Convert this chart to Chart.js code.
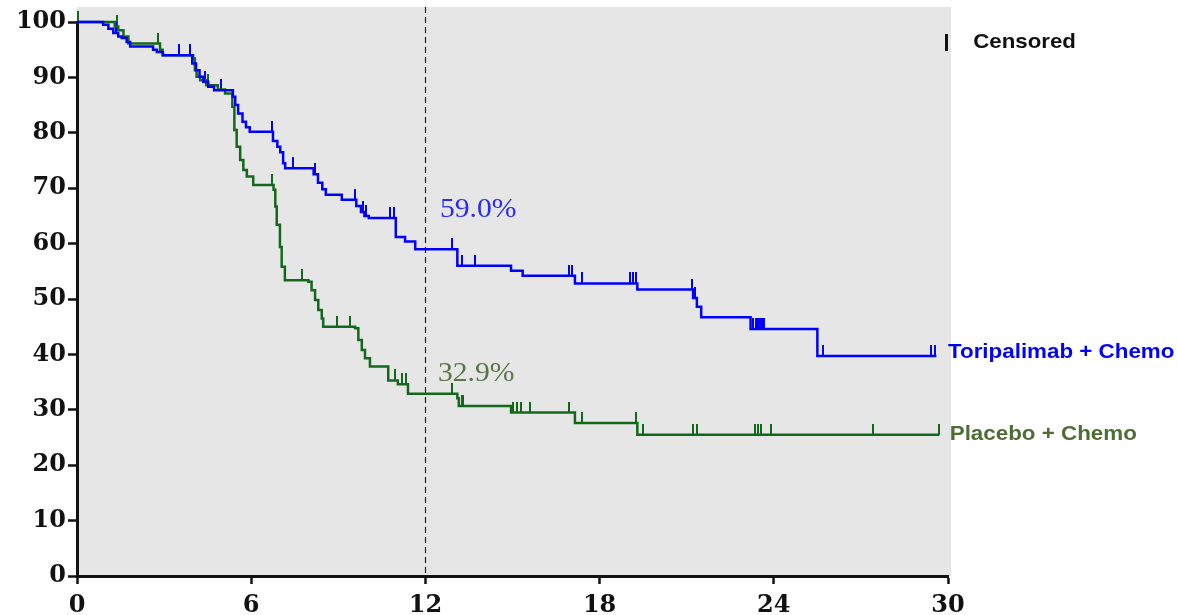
<!DOCTYPE html>
<html>
<head>
<meta charset="utf-8">
<script src="https://cdn.jsdelivr.net/npm/chart.js@4"></script>
<style>
  html, body { margin: 0; padding: 0; background: #ffffff; }
  canvas { display: block; }
</style>
</head>
<body>
<canvas id="km" width="1177" height="615"></canvas>
<script>
// Kaplan-Meier overall survival (%) by month

const xTickValues = [0, 6, 12, 18, 24, 30];
const yTickValues = [0, 10, 20, 30, 40, 50, 60, 70, 80, 90, 100];

// Toripalimab + Chemo: event times (months) and survival after each event (%)
const toriTimes = [0, 0.9, 1.08, 1.25, 1.42, 1.54, 1.71, 1.83, 2.62, 2.75, 2.96, 3.97, 4.1, 4.22, 4.35, 4.52, 4.72, 5.37, 5.45, 5.55, 5.7, 5.82, 5.95, 6.75, 6.9, 7.0, 7.1, 7.17, 8.15, 8.3, 8.45, 8.57, 9.12, 9.62, 9.78, 9.9, 10.05, 10.98, 11.3, 11.65, 13.1, 14.95, 15.35, 17.15, 19.3, 21.22, 21.35, 21.5, 23.2, 25.5];
const toriSurv  = [100, 99.5, 98.8, 98.0, 97.4, 97.1, 96.4, 95.6, 95.0, 94.6, 94.0, 92.5, 91.3, 90.1, 89.2, 88.3, 87.7, 86.5, 85.0, 83.5, 82.0, 81.0, 80.2, 78.5, 77.5, 76.5, 74.5, 73.6, 72.5, 71.0, 69.8, 68.8, 67.9, 66.8, 65.7, 65.0, 64.6, 61.2, 60.4, 59.0, 56.0, 55.1, 54.2, 52.8, 51.7, 50.2, 48.6, 46.7, 44.6, 39.7];
const toriLastFollowUp = 29.6;
const toriCensored = [1.35, 3.5, 3.9, 4.4, 4.97, 6.7, 7.45, 8.2, 9.58, 9.85, 9.95, 10.78, 10.92, 12.9, 13.25, 13.7, 16.93, 17.04, 17.4, 19.05, 19.15, 19.25, 21.17, 21.3, 23.3, 23.37, 23.44, 23.51, 23.58, 23.65, 25.7, 29.4, 29.55];

// Placebo + Chemo
const placTimes = [0, 1.3, 1.42, 1.6, 1.77, 2.86, 2.95, 4.0, 4.06, 4.12, 4.24, 4.45, 4.85, 5.1, 5.35, 5.42, 5.5, 5.62, 5.73, 5.85, 6.07, 6.77, 6.83, 6.88, 6.99, 7.05, 7.16, 7.97, 8.08, 8.2, 8.31, 8.43, 8.48, 9.58, 9.69, 9.81, 9.92, 10.09, 10.72, 11.05, 11.4, 13.1, 13.15, 14.95, 17.15, 19.3];
const placSurv  = [100, 99.2, 98.5, 97.4, 96.1, 95.0, 94.0, 93.4, 91.3, 90.1, 89.5, 88.6, 87.8, 87.1, 84.7, 80.5, 77.5, 75.1, 73.3, 72.1, 70.6, 69.7, 66.7, 63.4, 59.4, 55.8, 53.4, 53.1, 51.6, 49.8, 48.0, 46.5, 45.0, 44.7, 42.6, 40.8, 39.3, 37.8, 35.3, 34.6, 32.9, 32.1, 30.7, 29.5, 27.6, 25.5];
const placLastFollowUp = 29.7;
const placCensored = [0.03, 1.37, 2.8, 4.52, 6.7, 7.75, 8.94, 9.4, 10.95, 11.2, 11.32, 12.9, 13.25, 13.3, 15.0, 15.15, 15.3, 15.6, 16.95, 17.4, 19.25, 19.5, 21.2, 21.35, 23.35, 23.45, 23.55, 23.9, 27.4, 29.7];

const landmarkMonth = 12;
const toriLabel = 'Toripalimab + Chemo';
const placLabel = 'Placebo + Chemo';

const BLUE = '#0000ff';
const GREEN = '#13691a';
const GREEN_TEXT = '#4d6d34';

// survival value of a step curve at time t
function survivalAt(times, surv, t) {
  let s = surv[0];
  for (let i = 0; i < times.length; i++) {
    if (times[i] <= t) s = surv[i]; else break;
  }
  return s;
}

function stepPoints(times, surv, lastT) {
  const pts = times.map((t, i) => ({ x: t, y: surv[i] }));
  pts.push({ x: lastT, y: surv[surv.length - 1] });
  return pts;
}

function censorPoints(times, surv, cens) {
  return cens.map(t => ({ x: t, y: survivalAt(times, surv, t) }));
}

// upward tick used as the censor marker
function censorMark(color) {
  const c = document.createElement('canvas');
  c.width = 2; c.height = 22;
  const g = c.getContext('2d');
  g.fillStyle = color;
  g.fillRect(0, 0, 2, 11);
  return c;
}

const toriAt12 = survivalAt(toriTimes, toriSurv, landmarkMonth);
const placAt12 = survivalAt(placTimes, placSurv, landmarkMonth);

function drawText(ctx, text, x, y, font, color, align, sx) {
  ctx.save();
  ctx.font = font;
  ctx.fillStyle = color;
  ctx.textAlign = align || 'left';
  ctx.textBaseline = 'middle';
  ctx.translate(x, y);
  ctx.scale(sx || 1, 1);
  ctx.fillText(text, 0, 0);
  ctx.restore();
}

const decorations = {
  id: 'decorations',
  beforeDraw(chart) {
    const { ctx, chartArea: a } = chart;
    ctx.save();
    ctx.fillStyle = '#e6e6e6';
    ctx.fillRect(a.left, a.top - 15, a.right - a.left + 3, a.bottom - a.top + 15);
    ctx.restore();
  },
  beforeDatasetsDraw(chart) {
    const { ctx, chartArea: a, scales: { x } } = chart;
    const px = Math.round(x.getPixelForValue(landmarkMonth)) + 0.5;
    ctx.save();
    ctx.strokeStyle = '#222';
    ctx.lineWidth = 1.2;
    ctx.setLineDash([6, 4]);
    ctx.beginPath();
    ctx.moveTo(px, a.top - 15);
    ctx.lineTo(px, a.bottom);
    ctx.stroke();
    ctx.restore();
  },
  afterDatasetsDraw(chart) {
    const { ctx, scales: { x, y } } = chart;
    const serif = '28px "Liberation Serif", "Times New Roman", serif';
    const sans = 'bold 21px "Liberation Sans", Arial, sans-serif';
    drawText(ctx, toriAt12.toFixed(1) + '%', x.getPixelForValue(12.5), y.getPixelForValue(66.1), serif, '#2a2aff', 'left', 1.06);
    drawText(ctx, placAt12.toFixed(1) + '%', x.getPixelForValue(12.43), y.getPixelForValue(36.5), serif, '#5b7649', 'left', 1.06);
    drawText(ctx, toriLabel, x.getPixelForValue(30), y.getPixelForValue(40.4), sans, BLUE, 'left', 1.065);
    drawText(ctx, placLabel, x.getPixelForValue(30.06), y.getPixelForValue(25.6), sans, GREEN_TEXT, 'left', 1.065);
    // censor legend
    const lx = x.getPixelForValue(29.93);
    const ly = y.getPixelForValue(96.4);
    ctx.save();
    ctx.fillStyle = '#111';
    ctx.fillRect(Math.round(lx) - 1, Math.round(ly) - 8, 3, 17);
    ctx.restore();
    drawText(ctx, 'Censored', x.getPixelForValue(30.87), ly, sans, '#111', 'left', 1.06);
  }
};

const tickFont = { family: '"DejaVu Serif", "Liberation Serif", serif', size: 24, weight: 'bold' };

new Chart(document.getElementById('km'), {
  type: 'line',
  data: {
    datasets: [
      {
        label: toriLabel,
        data: stepPoints(toriTimes, toriSurv, toriLastFollowUp),
        borderColor: BLUE, borderWidth: 2.5, stepped: true,
        pointRadius: 0, fill: false, clip: false
      },
      {
        label: placLabel,
        data: stepPoints(placTimes, placSurv, placLastFollowUp),
        borderColor: GREEN, borderWidth: 2.5, stepped: true,
        pointRadius: 0, fill: false, clip: false
      },
      {
        label: toriLabel + ' censored',
        data: censorPoints(toriTimes, toriSurv, toriCensored),
        showLine: false, pointStyle: censorMark(BLUE), pointRadius: 4, clip: false
      },
      {
        label: placLabel + ' censored',
        data: censorPoints(placTimes, placSurv, placCensored),
        showLine: false, pointStyle: censorMark(GREEN), pointRadius: 4, clip: false
      }
    ]
  },
  options: {
    responsive: false,
    animation: false,
    events: [],
    layout: { padding: { top: 22, right: 229, left: 0, bottom: 0 } },
    plugins: { legend: { display: false }, tooltip: { enabled: false } },
    scales: {
      x: {
        type: 'linear', min: 0, max: 30,
        afterFit(scale) { scale.height = 39; },
        afterBuildTicks(scale) { scale.ticks = xTickValues.map(v => ({ value: v })); },
        ticks: { font: tickFont, color: '#111', padding: 7, maxRotation: 0 },
        grid: { display: true, drawOnChartArea: false, drawTicks: true, tickLength: 8, tickWidth: 2.5, tickColor: '#111' },
        border: { display: true, color: '#111', width: 3 }
      },
      y: {
        type: 'linear', min: 0, max: 100,
        afterFit(scale) { scale.width = 77; },
        afterBuildTicks(scale) { scale.ticks = yTickValues.map(v => ({ value: v })); },
        ticks: { font: tickFont, color: '#111', padding: 2 },
        grid: { display: true, drawOnChartArea: false, drawTicks: true, tickLength: 9, tickWidth: 2.5, tickColor: '#111' },
        border: { display: true, color: '#111', width: 3 }
      }
    }
  },
  plugins: [decorations]
});
</script>
</body>
</html>
